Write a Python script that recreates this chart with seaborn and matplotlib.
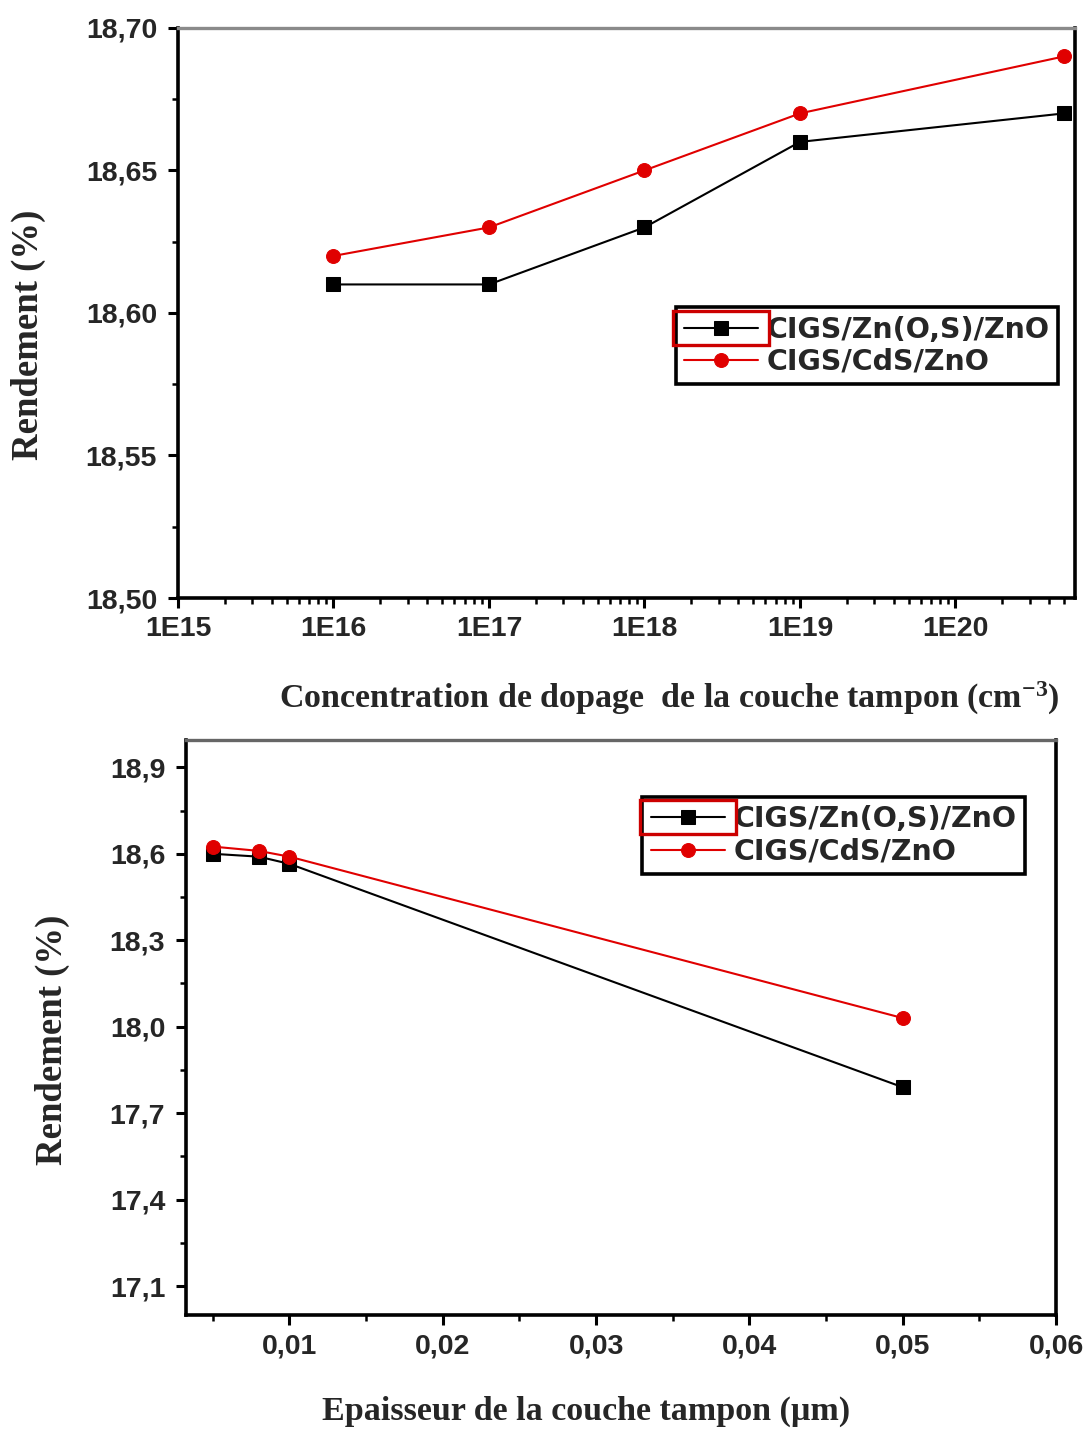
import numpy as np
import pandas as pd
import matplotlib
matplotlib.use("Agg")
import matplotlib.pyplot as plt
import matplotlib.ticker as mticker
from matplotlib.patches import Rectangle
import seaborn as sns

# --- data ---------------------------------------------------------------
doping = [1e16, 1e17, 1e18, 1e19, 5e20]
eff_znos_doping = [18.61, 18.61, 18.63, 18.66, 18.67]
eff_cds_doping = [18.62, 18.63, 18.65, 18.67, 18.69]

thickness = [0.005, 0.008, 0.01, 0.05]
eff_znos_thick = [18.60, 18.59, 18.565, 17.79]
eff_cds_thick = [18.625, 18.61, 18.59, 18.03]

label_znos = "CIGS/Zn(O,S)/ZnO"
label_cds = "CIGS/CdS/ZnO"

sns.set_theme(style="white")
plt.rcParams["font.family"] = ["Liberation Sans", "DejaVu Sans"]
plt.rcParams["mathtext.fontset"] = "custom"
plt.rcParams["mathtext.rm"] = "Liberation Serif:bold"
plt.rcParams["mathtext.bf"] = "Liberation Serif:bold"
plt.rcParams["mathtext.default"] = "bf"

fig = plt.figure(figsize=(10.85, 14.29), dpi=100)
ax1 = fig.add_axes([0.164, 0.5815, 0.827, 0.399])
ax2 = fig.add_axes([0.1714, 0.0798, 0.802, 0.4024])

tick_font = dict(family="Liberation Sans", weight="bold", size=20.5)
label_font = dict(family="Liberation Serif", weight="bold", size=24.5)
ylab_font = dict(family="Liberation Serif", weight="bold", size=26.5)


def comma(fmt):
    return mticker.FuncFormatter(lambda v, p: fmt.format(v).replace(".", ","))


def style_axes(ax, top_color):
    for side in ("left", "bottom", "right"):
        ax.spines[side].set_color("black")
        ax.spines[side].set_linewidth(2.6)
    ax.spines["top"].set_color(top_color)
    ax.spines["top"].set_linewidth(2.4)
    ax.tick_params(axis="both", which="major", direction="out", length=7,
                   width=2.2, color="black", bottom=True, left=True,
                   top=False, right=False)
    ax.tick_params(axis="both", which="minor", direction="out", length=4,
                   width=1.8, color="black", bottom=True, left=True,
                   top=False, right=False)
    for t in ax.get_xticklabels() + ax.get_yticklabels():
        t.set_fontproperties(tick_font)


def draw_series(ax, x, y_a, y_b):
    df = pd.DataFrame({"x": list(x) * 2,
                       "y": list(y_a) + list(y_b),
                       "serie": [label_znos] * len(x) + [label_cds] * len(x)})
    sns.lineplot(data=df[df.serie == label_znos], x="x", y="y", ax=ax,
                 color="black", lw=1.5, marker="s", markersize=10,
                 markeredgecolor="black", label=label_znos)
    sns.lineplot(data=df[df.serie == label_cds], x="x", y="y", ax=ax,
                 color="#e00000", lw=1.5, marker="o", markersize=10,
                 markeredgecolor="#e00000", label=label_cds)


def add_legend(ax, anchor):
    leg = ax.legend(loc="upper right", bbox_to_anchor=anchor, frameon=True,
                    fancybox=False, edgecolor="black", framealpha=1,
                    prop=dict(family="DejaVu Sans", weight="bold", size=20.5),
                    handlelength=2.6, handletextpad=0.3, borderpad=0.3,
                    labelspacing=0.15, borderaxespad=0)
    leg.get_frame().set_linewidth(2.6)
    return leg


# --- top: doping concentration -----------------------------------------
draw_series(ax1, doping, eff_znos_doping, eff_cds_doping)
ax1.set_xscale("log")
ax1.set_xlim(1e15, 10 ** 20.77)
ax1.set_ylim(18.50, 18.70)
ax1.xaxis.set_major_locator(mticker.LogLocator(base=10, numticks=10))
ax1.xaxis.set_minor_locator(mticker.LogLocator(base=10, subs=np.arange(2, 10), numticks=12))
ax1.xaxis.set_major_formatter(mticker.FuncFormatter(lambda v, p: "1E%d" % round(np.log10(v))))
ax1.xaxis.set_minor_formatter(mticker.NullFormatter())
ax1.yaxis.set_major_locator(mticker.MultipleLocator(0.05))
ax1.yaxis.set_minor_locator(mticker.MultipleLocator(0.025))
ax1.yaxis.set_major_formatter(comma("{:.2f}"))
ax1.set_xlabel("Concentration de dopage  de la couche tampon (cm$^{\\mathbf{-3}}$)",
               fontdict=label_font)
ax1.xaxis.set_label_coords(0.548, -0.143)
ax1.set_ylabel("Rendement (%)", fontdict=ylab_font)
ax1.yaxis.set_label_coords(-0.147, 0.461)
style_axes(ax1, "#8a8a8a")
leg1 = add_legend(ax1, (0.981, 0.5105))

# --- bottom: buffer thickness ------------------------------------------
draw_series(ax2, thickness, eff_znos_thick, eff_cds_thick)
ax2.set_xlim(0.00325, 0.06)
ax2.set_ylim(17.0, 18.995)
ax2.xaxis.set_major_locator(mticker.FixedLocator([0.01, 0.02, 0.03, 0.04, 0.05, 0.06]))
ax2.xaxis.set_minor_locator(mticker.FixedLocator([0.005, 0.015, 0.025, 0.035, 0.045, 0.055]))
ax2.xaxis.set_major_formatter(comma("{:.2f}"))
ax2.yaxis.set_major_locator(mticker.FixedLocator([17.1, 17.4, 17.7, 18.0, 18.3, 18.6, 18.9]))
ax2.yaxis.set_minor_locator(mticker.FixedLocator([17.25, 17.55, 17.85, 18.15, 18.45, 18.75]))
ax2.yaxis.set_major_formatter(comma("{:.1f}"))
ax2.set_xlabel("Epaisseur de la couche tampon (µm)", fontdict=label_font)
ax2.xaxis.set_label_coords(0.46, -0.14)
ax2.set_ylabel("Rendement (%)", fontdict=ylab_font)
ax2.yaxis.set_label_coords(-0.133, 0.478)
style_axes(ax2, "#666666")
leg2 = add_legend(ax2, (0.964, 0.901))

for ax in (ax1, ax2):
    ax.tick_params(axis="x", which="major", pad=6)
    ax.tick_params(axis="y", which="major", pad=8)

# Outline around the first legend entry
fig.canvas.draw()
renderer = fig.canvas.get_renderer()
inv = fig.transFigure.inverted()
for leg in (leg1, leg2):
    bb = leg.legend_handles[0].get_window_extent(renderer)
    cy = 0.5 * (bb.y0 + bb.y1)
    x0, x1 = bb.x0 - 4, bb.x1 + 4
    y0, y1 = cy - 17, cy + 17
    (fx0, fy0), (fx1, fy1) = inv.transform([(x0, y0), (x1, y1)])
    fig.add_artist(Rectangle((fx0, fy0), fx1 - fx0, fy1 - fy0,
                             transform=fig.transFigure, fill=False,
                             edgecolor="#cc0000", linewidth=2.4, zorder=10))

fig.savefig("out.png", dpi=100)
